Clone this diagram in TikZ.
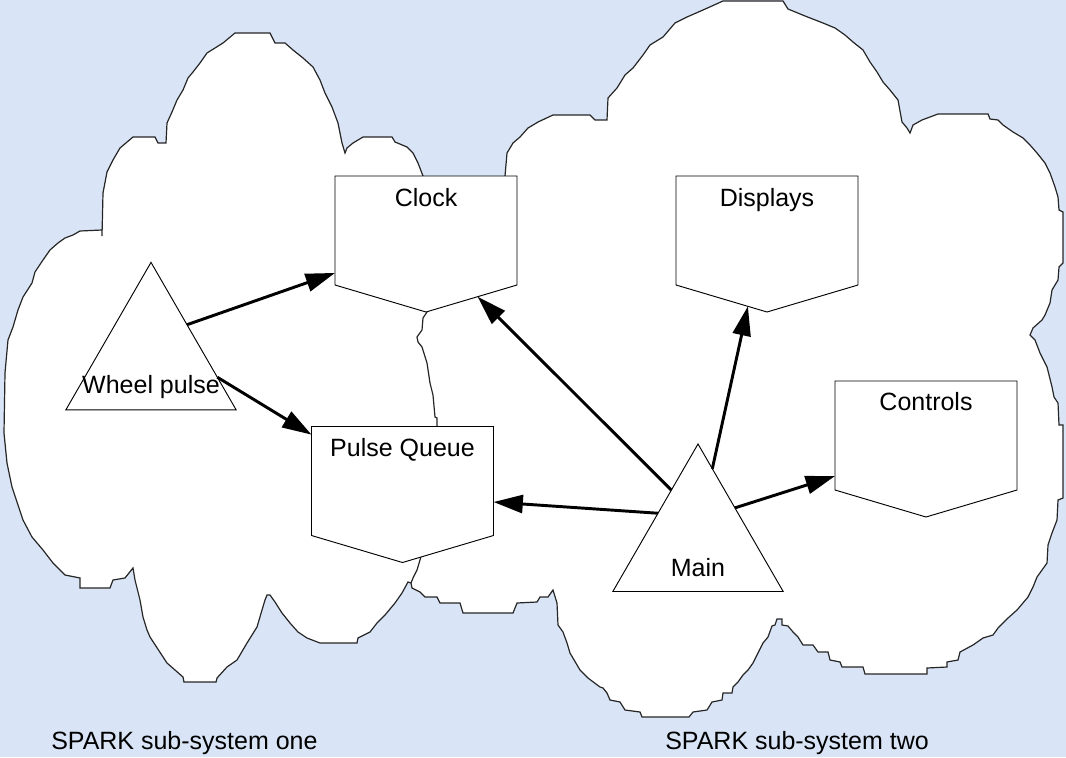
\documentclass[tikz,border=0pt]{standalone}
\usepackage{fontspec}
\setmainfont{Liberation Sans}
\usetikzlibrary{shapes.geometric,arrows.meta,calc}

\definecolor{paper}{RGB}{217,229,246}
\tikzset{
  cloudline/.style={draw=black!85, line width=0.9pt, fill=white, line join=miter},
  docbox/.style={rectangle, minimum width=136.5pt, minimum height=81.75pt,
                 inner sep=0pt, outer sep=0pt},
  docline/.style={draw=black, line width=0.7pt, fill=white},
  tri/.style={regular polygon, regular polygon sides=3, minimum size=147.5pt,
              inner sep=0pt, outer sep=0pt, draw=black, line width=0.7pt, fill=white},
  lbl/.style={font=\fontsize{18.75}{22}\selectfont, inner sep=0pt, anchor=base},
  sublbl/.style={font=\fontsize{18.75}{22}\selectfont, inner sep=0pt, anchor=base west},
  flow/.style={line width=2.2pt, -{Triangle[length=22pt,width=13.5pt]}},
}
% pentagon outline of a document box, pointed at the bottom
\newcommand\docshape[1]{%
  \coordinate (#1 tip) at ($(#1.south)+(0,27)$);
  \draw[docline] (#1.north west) -- (#1.north east) -- (#1.south east)
    -- (#1 tip) -- (#1.south west) -- cycle;}

\begin{document}
\begin{tikzpicture}[x=0.75pt,y=-0.75pt]
\useasboundingbox (0,0) rectangle (1066,757);
\fill[paper] (0,0) rectangle (1066,757);

% sub-system one
\path[cloudline] (235,33) -- (270,33) -- (275,43) -- (285,43) -- (293,50) -- (303,58)
  -- (313,67) -- (320,80) -- (325,93) -- (332,107) -- (338,123) -- (342,143)
  -- (345,153) -- (347,148) -- (353,143) -- (363,137) -- (392,137) -- (395,142)
  -- (407,147) -- (413,153) -- (418,163) -- (423,176) -- (450,230) -- (470,300)
  -- (470,420) -- (460,520) -- (440,560) -- (411,583) -- (408,582) -- (402,593)
  -- (395,603) -- (385,615) -- (377,623) -- (370,632) -- (358,638) -- (357,643)
  -- (320,643) -- (307,638) -- (298,632) -- (290,623) -- (282,613) -- (275,602)
  -- (270,595) -- (267,595) -- (265,600) -- (262,610) -- (257,627) -- (247,643)
  -- (237,660) -- (227,667) -- (217,678) -- (216,682) -- (184,682) -- (183,677)
  -- (167,663) -- (150,637) -- (147,630) -- (143,617) -- (140,600) -- (135,580)
  -- (133,568) -- (125,578) -- (113,580) -- (110,588) -- (80,588) -- (80,578)
  -- (65,575) -- (53,563) -- (43,550) -- (32,537) -- (23,520) -- (17,502)
  -- (12,487) -- (7,463) -- (4,433) -- (5,373) -- (8,340) -- (13,327) -- (18,310)
  -- (23,297) -- (32,283) -- (35,272) -- (43,260) -- (50,250) -- (58,243)
  -- (65,238) -- (73,235) -- (80,231) -- (102,230) -- (102,236) -- (103,193)
  -- (107,172) -- (113,160) -- (120,148) -- (133,137) -- (155,137) -- (158,143)
  -- (166,143) -- (167,123) -- (172,112) -- (177,100) -- (183,90) -- (188,78)
  -- (193,72) -- (200,63) -- (207,53) -- (215,48) -- (223,43) -- cycle;

% sub-system two
\path[cloudline] (505,176) -- (507,153) -- (513,143) -- (520,137) -- (528,128)
  -- (538,122) -- (553,115) -- (590,115) -- (595,120) -- (607,120) -- (608,98)
  -- (617,88) -- (625,75) -- (633,68) -- (643,55) -- (650,45) -- (663,37)
  -- (675,23) -- (687,17) -- (703,10) -- (723,1) -- (783,1) -- (788,9) -- (805,16)
  -- (823,23) -- (835,28) -- (845,35) -- (853,42) -- (863,50) -- (870,62)
  -- (877,72) -- (883,82) -- (890,90) -- (898,100) -- (902,122) -- (907,128)
  -- (910,133) -- (913,125) -- (922,120) -- (938,114) -- (988,114) -- (990,119)
  -- (998,120) -- (1003,125) -- (1013,132) -- (1023,138) -- (1030,145)
  -- (1037,153) -- (1045,163) -- (1050,173) -- (1055,187) -- (1058,197)
  -- (1059,210) -- (1063,212) -- (1063,263) -- (1059,267) -- (1058,280)
  -- (1052,290) -- (1050,303) -- (1045,315) -- (1042,320) -- (1033,328)
  -- (1030,335) -- (1035,340) -- (1040,353) -- (1047,367) -- (1052,387)
  -- (1054,397) -- (1058,403) -- (1059,425) -- (1063,425) -- (1063,498)
  -- (1058,500) -- (1057,520) -- (1052,533) -- (1048,545) -- (1047,563)
  -- (1037,577) -- (1033,587) -- (1028,597) -- (1017,610) -- (1008,618)
  -- (998,628) -- (993,635) -- (983,638) -- (973,645) -- (960,652) -- (958,660)
  -- (947,662) -- (947,667) -- (927,668) -- (927,674) -- (865,674) -- (863,667)
  -- (842,667) -- (840,662) -- (830,660) -- (828,652) -- (818,652) -- (813,645)
  -- (803,645) -- (798,637) -- (793,632) -- (788,626) -- (782,625) -- (782,619)
  -- (777,619) -- (775,625) -- (772,626) -- (768,637) -- (763,643) -- (758,653)
  -- (753,663) -- (748,670) -- (743,675) -- (738,682) -- (733,687) -- (732,693)
  -- (723,693) -- (722,700) -- (712,702) -- (707,710) -- (693,712) -- (689,717)
  -- (642,717) -- (640,712) -- (625,710) -- (620,702) -- (610,700) -- (607,693)
  -- (603,688) -- (600,687) -- (588,678) -- (580,670) -- (570,653) -- (567,643)
  -- (563,632) -- (558,625) -- (557,603) -- (553,590) -- (548,597) -- (540,597)
  -- (537,602) -- (517,603) -- (513,613) -- (463,613) -- (460,603) -- (440,603)
  -- (437,597) -- (425,597) -- (420,592) -- (412,588) -- (411,583) -- (413,578)
  -- (417,570) -- (420,560) -- (440,480) -- (437,426) -- (437,418) -- (435,417)
  -- (433,395) -- (430,383) -- (427,363) -- (422,347) -- (418,342) -- (417,337)
  -- (422,330) -- (423,318) -- (427,312) -- (470,250) -- cycle;

% document boxes
\node[docbox] (clock)    at (426,230.5) {};
\node[docbox] (displays) at (767,230.5) {};
\node[docbox] (queue)    at (402.5,481) {};
\node[docbox] (controls) at (926,435.5) {};
\docshape{clock}
\docshape{displays}
\docshape{queue}
\docshape{controls}

% tasks
\node[tri] (wheel) at (151,360.7) {};
\node[tri] (main)  at (698,542.3) {};

% calls
\draw[flow] (wheel.45.5)  -- (clock.205.3);
\draw[flow] (wheel.-14.5) -- (queue.153.6);
\draw[flow] (main.117.3)  -- ($(clock.south east)!0.433!(clock tip)$);
\draw[flow] (main.144.7)  -- (queue.-13.1);
\draw[flow] (main.79.6)   -- ($(displays.south west)!0.79!(displays tip)$);
\draw[flow] (main.43.7)   -- (controls.204.5);

% labels
\node[lbl] (clocktext)    at ($(clock.north)+(0,30)$)    {Clock};
\node[lbl] (displaystext) at ($(displays.north)+(0,30)$) {Displays};
\node[lbl] (queuetext)    at ($(queue.north)+(0,30)$)    {Pulse Queue};
\node[lbl] (controlstext) at ($(controls.north)+(0,29)$) {Controls};
\node[lbl] (wheeltext)    at (151,393) {Wheel pulse};
\node[lbl] (maintext)     at (698,576) {Main};
\node[sublbl] (onetext) at (51,749)  {SPARK sub-system one};
\node[sublbl] (twotext) at (665,749) {SPARK sub-system two};
\end{tikzpicture}
\end{document}
